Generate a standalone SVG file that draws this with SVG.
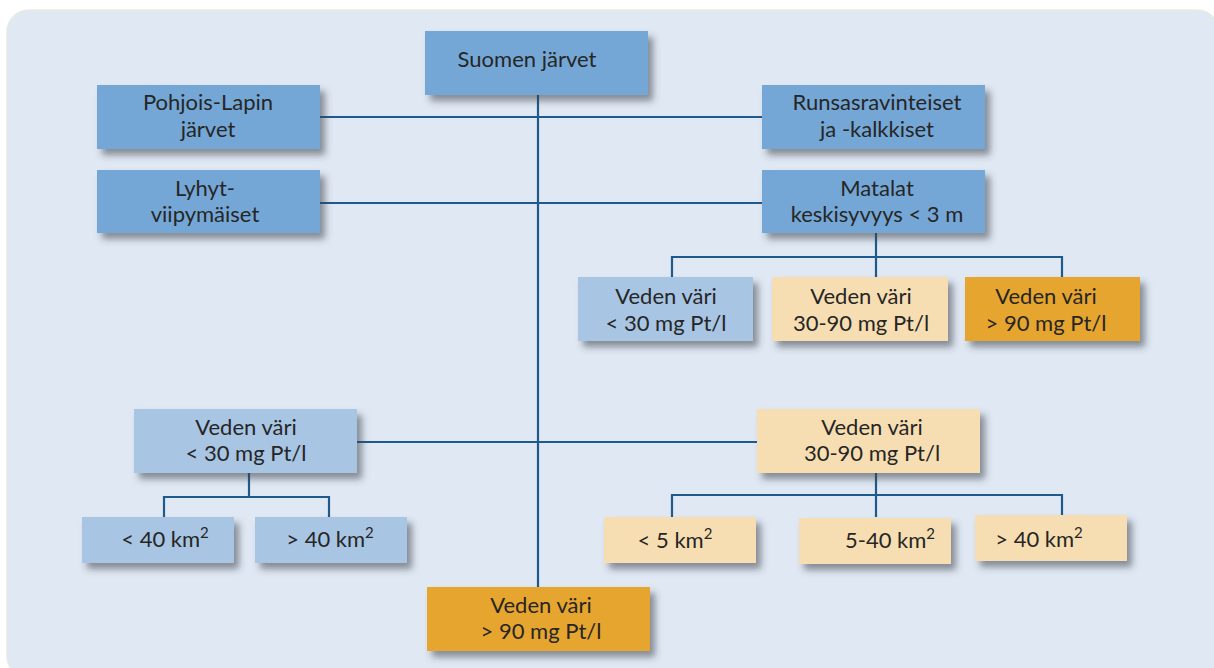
<svg xmlns="http://www.w3.org/2000/svg" width="1214" height="668" viewBox="0 0 1214 668">
<defs>
<filter id="sh" x="-10%" y="-20%" width="130%" height="160%">
<feDropShadow dx="5" dy="6" stdDeviation="3.5" flood-color="#3a3f4a" flood-opacity="0.55"/>
</filter>
</defs>
<style>
.t{font-family:Lato,"Open Sans","Liberation Sans",sans-serif;font-size:22px;fill:#262626;text-anchor:middle}
.sup{font-size:15px}
.dk{fill:#74a7d6}
.lb{fill:#a8c5e4}
.bg{fill:#f7deb2}
.or{fill:#e6a52f}
.c{stroke:#1e5a8b;stroke-width:2.2;fill:none}
</style>
<rect x="0" y="0" width="1214" height="668" fill="#ffffff"/>
<rect x="7" y="10" width="1212" height="668" rx="22" fill="#dfe8f3" stroke="#e6ecdf" stroke-width="1.5"/>
<g id="connectors">
<path class="c" d="M538 95 V587"/>
<path class="c" d="M320 117 H762"/>
<path class="c" d="M320 203 H762"/>
<path class="c" d="M876 233 V277 M672 277 V257 H1062 V277"/>
<path class="c" d="M357 442 H757"/>
<path class="c" d="M249 473 V497 M164 517 V497 H329 V517"/>
<path class="c" d="M876 473 V517 M672 517 V495 H1062 V515"/>
</g>
<g id="n-suomen"><rect class="dk" x="425" y="31" width="223" height="64" filter="url(#sh)"/><text class="t" x="527" y="67">Suomen järvet</text></g>
<g id="n-pohjois"><rect class="dk" x="97" y="85" width="223" height="64" filter="url(#sh)"/><text class="t" x="208" y="110">Pohjois-Lapin</text><text class="t" x="208" y="137">järvet</text></g>
<g id="n-lyhyt"><rect class="dk" x="97" y="170" width="223" height="63" filter="url(#sh)"/><text class="t" x="205" y="196">Lyhyt-</text><text class="t" x="205" y="222">viipymäiset</text></g>
<g id="n-runsas"><rect class="dk" x="762" y="85" width="223" height="64" filter="url(#sh)"/><text class="t" x="877" y="110">Runsasravinteiset</text><text class="t" x="877" y="137">ja -kalkkiset</text></g>
<g id="n-matalat"><rect class="dk" x="762" y="170" width="223" height="63" filter="url(#sh)"/><text class="t" x="877" y="196">Matalat</text><text class="t" x="877" y="222">keskisyvyys &lt; 3 m</text></g>
<g id="n-m1"><rect class="lb" x="578" y="277" width="175" height="64" filter="url(#sh)"/><text class="t" x="666" y="304">Veden väri</text><text class="t" x="666" y="331">&lt; 30 mg Pt/l</text></g>
<g id="n-m2"><rect class="bg" x="772" y="277" width="176" height="64" filter="url(#sh)"/><text class="t" x="861" y="304">Veden väri</text><text class="t" x="861" y="331">30-90 mg Pt/l</text></g>
<g id="n-m3"><rect class="or" x="965" y="277" width="175" height="64" filter="url(#sh)"/><text class="t" x="1046" y="304">Veden väri</text><text class="t" x="1046" y="331">&gt; 90 mg Pt/l</text></g>
<g id="n-l"><rect class="lb" x="134" y="409" width="223" height="64" filter="url(#sh)"/><text class="t" x="246" y="435">Veden väri</text><text class="t" x="246" y="461">&lt; 30 mg Pt/l</text></g>
<g id="n-r"><rect class="bg" x="757" y="409" width="223" height="64" filter="url(#sh)"/><text class="t" x="872" y="435">Veden väri</text><text class="t" x="872" y="461">30-90 mg Pt/l</text></g>
<g id="n-l1"><rect class="lb" x="82" y="517" width="152" height="46" filter="url(#sh)"/><text class="t" x="165" y="547">&lt; 40 km<tspan class="sup" dy="-9">2</tspan></text></g>
<g id="n-l2"><rect class="lb" x="255" y="517" width="152" height="46" filter="url(#sh)"/><text class="t" x="330" y="547">&gt; 40 km<tspan class="sup" dy="-9">2</tspan></text></g>
<g id="n-r1"><rect class="bg" x="604" y="517" width="152" height="46" filter="url(#sh)"/><text class="t" x="675" y="548">&lt; 5 km<tspan class="sup" dy="-9">2</tspan></text></g>
<g id="n-r2"><rect class="bg" x="799" y="518" width="152" height="46" filter="url(#sh)"/><text class="t" x="890" y="548">5-40 km<tspan class="sup" dy="-9">2</tspan></text></g>
<g id="n-r3"><rect class="bg" x="975" y="515" width="152" height="46" filter="url(#sh)"/><text class="t" x="1039" y="547">&gt; 40 km<tspan class="sup" dy="-9">2</tspan></text></g>
<g id="n-bottom"><rect class="or" x="427" y="587" width="223" height="64" filter="url(#sh)"/><text class="t" x="541" y="613">Veden väri</text><text class="t" x="541" y="639">&gt; 90 mg Pt/l</text></g>
</svg>
